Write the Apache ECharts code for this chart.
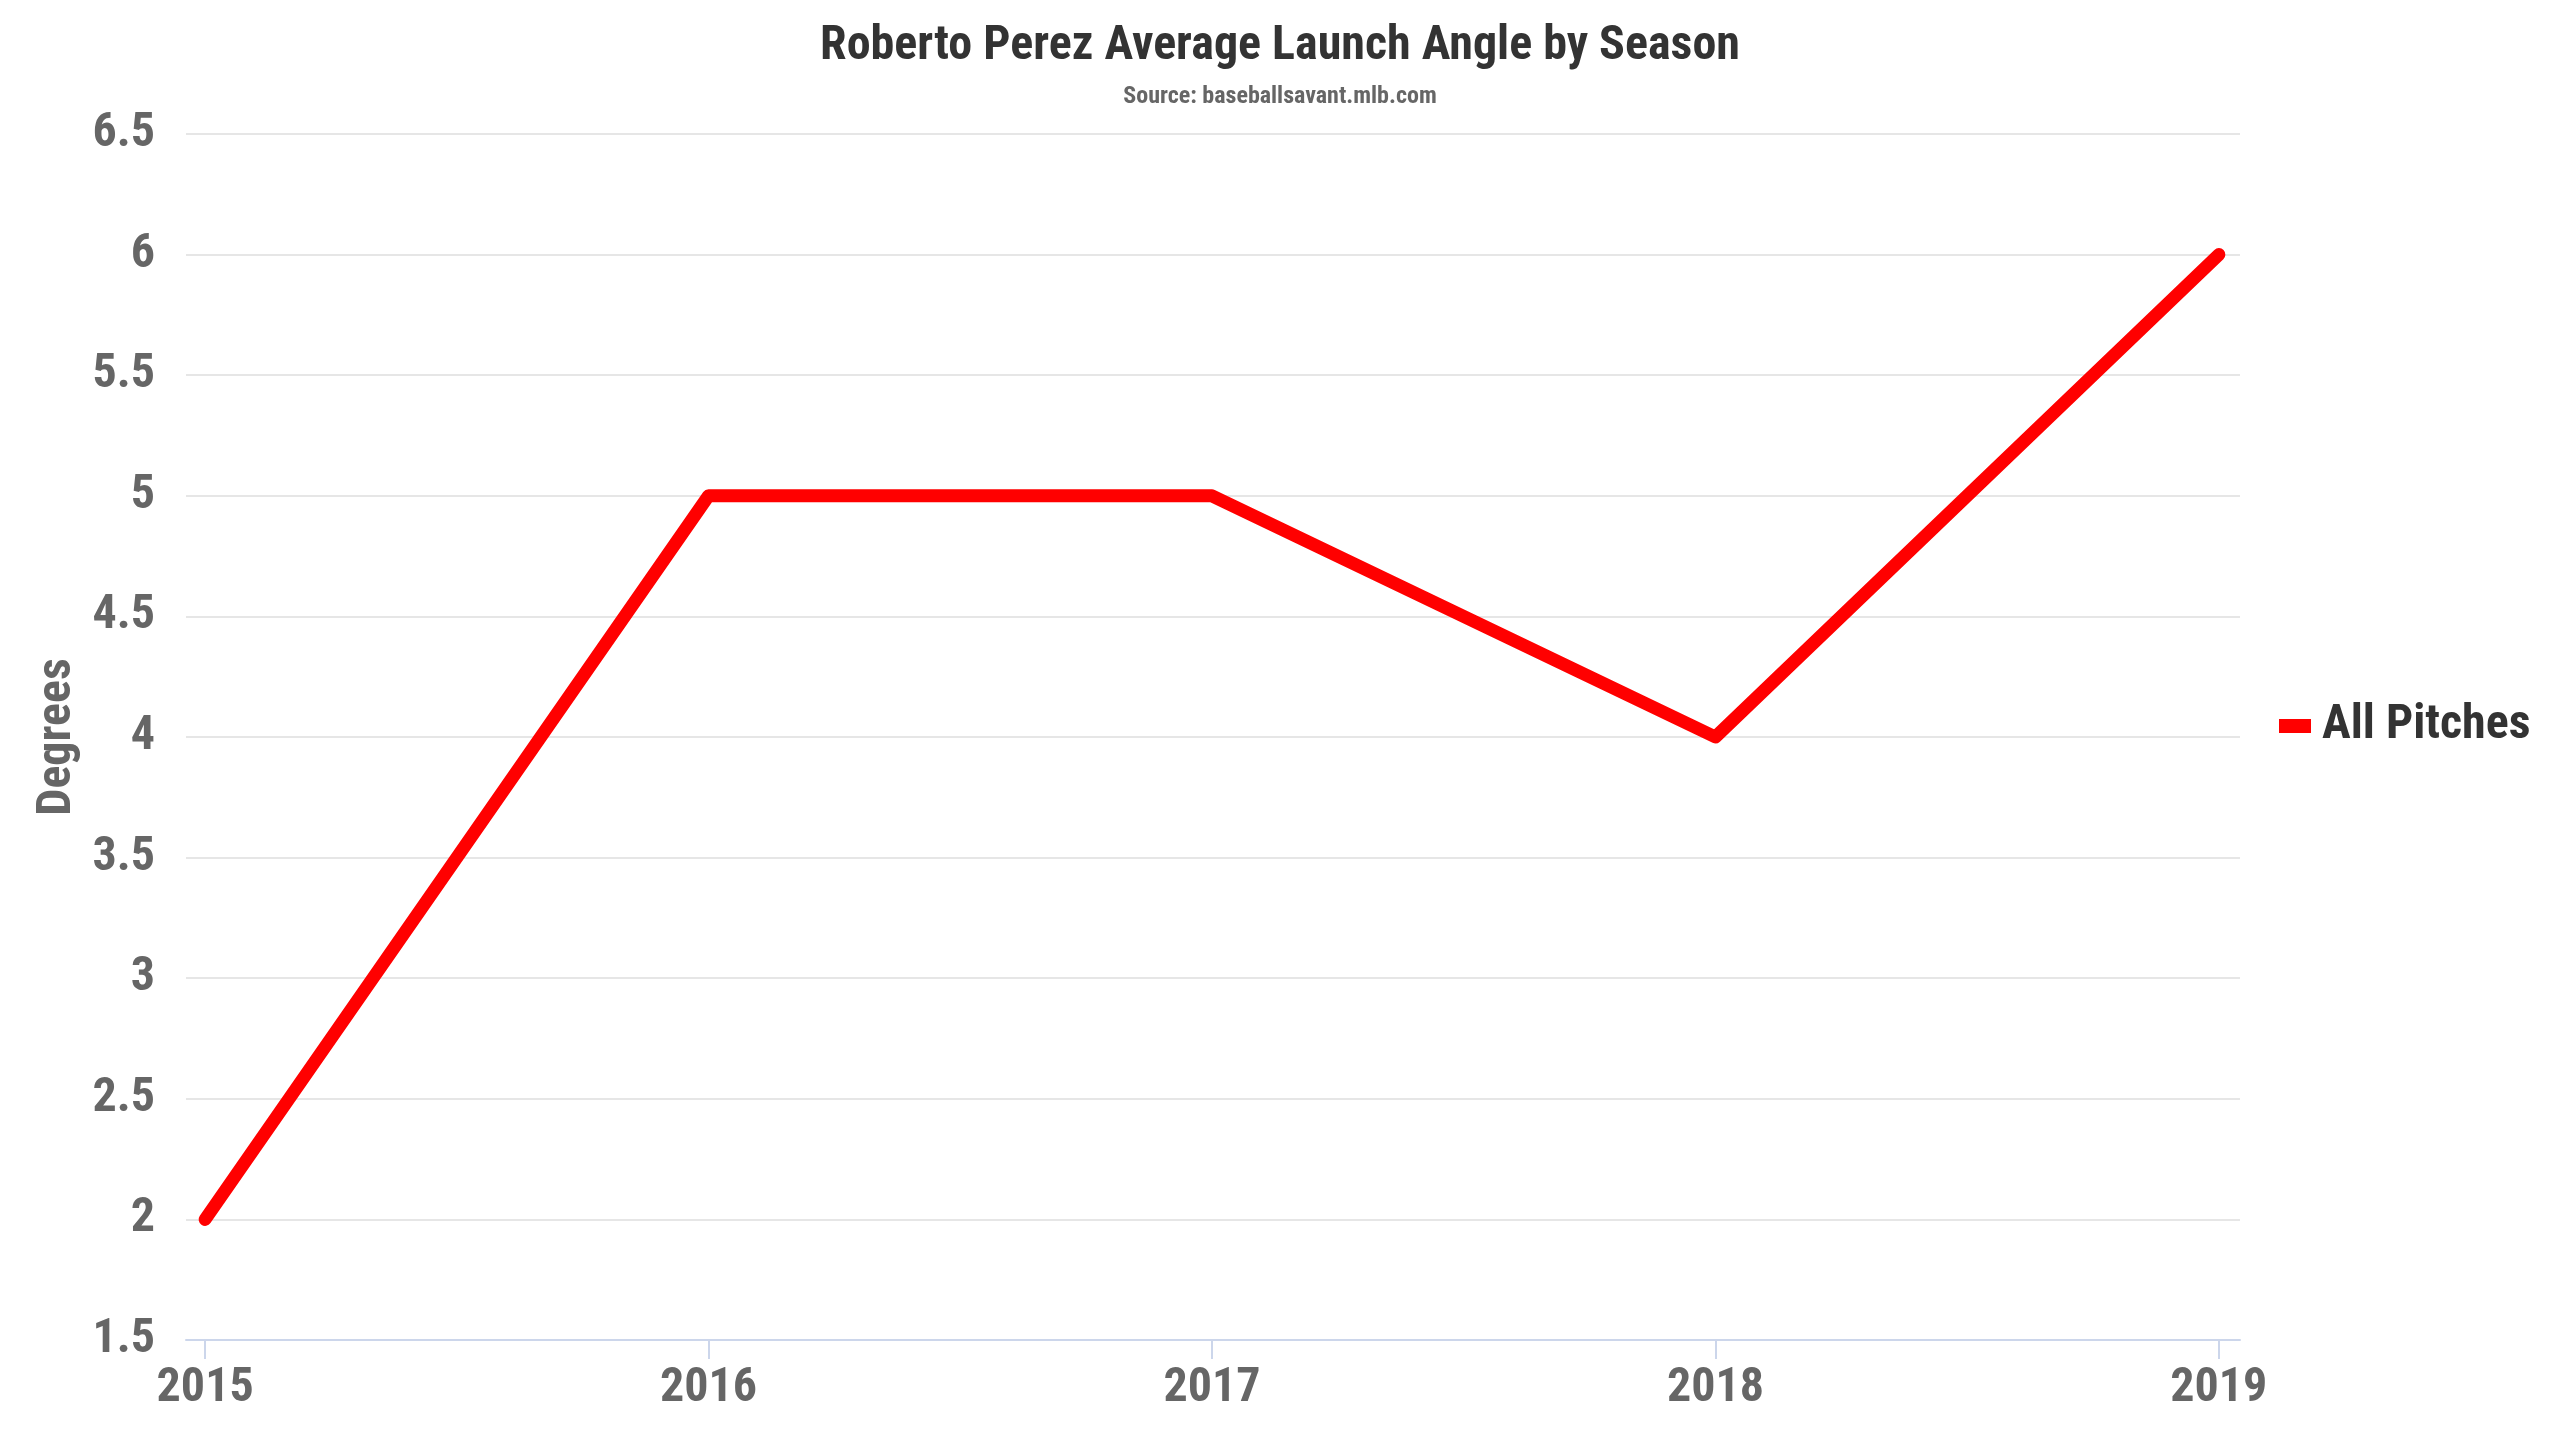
<!DOCTYPE html>
<html>
<head>
<meta charset="utf-8">
<script src="https://cdn.jsdelivr.net/npm/echarts@6/dist/echarts.min.js"></script>
<style>
html,body{margin:0;padding:0;background:#fff;}
#chart{width:2560px;height:1440px;}
</style>
</head>
<body>
<div id="chart"></div>
<script>
const seasons = [2015, 2016, 2017, 2018, 2019];
const allPitches = [2, 5, 5, 4, 6];
const yTicks = [1.5, 2, 2.5, 3, 3.5, 4, 4.5, 5, 5.5, 6, 6.5];

const FONT = "'Roboto Condensed', 'Liberation Sans Narrow', 'DejaVu Sans Condensed', Roboto, sans-serif";

const chart = echarts.init(document.getElementById('chart'));
chart.setOption({
  backgroundColor: '#ffffff',
  animation: false,
  title: {
    text: 'Roberto Perez Average Launch Angle by Season',
    subtext: 'Source: baseballsavant.mlb.com',
    left: 'center',
    top: 18,
    itemGap: 14,
    textStyle: { fontFamily: FONT, fontSize: 48, fontWeight: 'bold', color: '#333333' },
    subtextStyle: { fontFamily: FONT, fontSize: 24, fontWeight: 'bold', color: '#666666' }
  },
  legend: {
    orient: 'vertical',
    left: 2274,
    top: 697,
    icon: 'rect',
    itemWidth: 32,
    itemHeight: 14,
    textStyle: { fontFamily: FONT, fontSize: 48, fontWeight: 'bold', color: '#333333', padding: [0, 0, 0, 6] },
    data: ['All Pitches']
  },
  grid: { left: 186, right: 320, top: 134, bottom: 100, containLabel: false },
  xAxis: {
    type: 'value',
    min: 2014.962,
    max: 2019.042,
    axisLine: { show: true, lineStyle: { color: '#ccd6eb', width: 2 } },
    axisTick: { show: true, customValues: seasons, length: 19, lineStyle: { color: '#ccd6eb', width: 2 } },
    axisLabel: {
      customValues: seasons,
      formatter: v => String(v),
      fontFamily: FONT, fontSize: 48, fontWeight: 'bold', color: '#666666', margin: 25
    },
    splitLine: { show: false }
  },
  yAxis: {
    type: 'value',
    min: 1.5,
    max: 6.5,
    interval: 0.5,
    name: 'Degrees',
    nameLocation: 'middle',
    nameGap: 100,
    nameRotate: 90,
    nameTextStyle: { fontFamily: FONT, fontSize: 48, fontWeight: 'bold', color: '#666666' },
    axisLine: { show: false },
    axisTick: { show: false },
    axisLabel: { fontFamily: FONT, fontSize: 48, fontWeight: 'bold', color: '#666666', margin: 31 },
    splitLine: { show: true, lineStyle: { color: '#e6e6e6', width: 2 } }
  },
  series: [{
    name: 'All Pitches',
    type: 'line',
    data: seasons.map((s, i) => [s, allPitches[i]]),
    showSymbol: false,
    symbol: 'none',
    itemStyle: { color: '#ff0000' },
    lineStyle: { color: '#ff0000', width: 13, cap: 'round', join: 'round' }
  }]
});
</script>
</body>
</html>
